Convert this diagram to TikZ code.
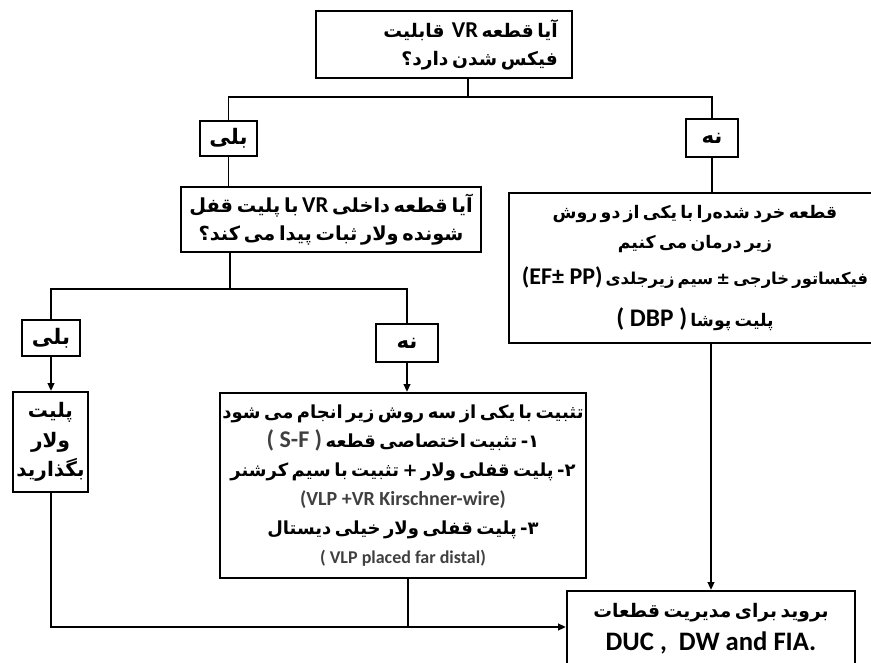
\documentclass[tikz,border=0pt]{standalone}
\usepackage{fontspec}
\usetikzlibrary{arrows.meta}
\newfontfamily\fafont[Script=Arabic, WordSpace=0.55]{DejaVu Sans}
\newfontfamily\latfont{Carlito}
\TeXXeTstate=1
\newcommand{\rl}[1]{\beginR #1\endR}
\newcommand{\lt}[2][17]{\beginL{\latfont\bfseries\fontsize{#1}{21}\selectfont #2}\endL}
\newcommand{\fsize}[1]{\fontsize{#1}{21}\selectfont}
\definecolor{latgray}{RGB}{64,64,64}

\tikzset{every picture/.style={line width=0.75pt}}
\tikzset{
  boxnode/.style={draw, line width=1.5pt, inner sep=2pt, align=center,
    font=\fafont\bfseries\fontsize{14}{21}\selectfont},
  link/.style={line width=1.1pt},
  arrowlink/.style={line width=1.5pt, -{Triangle[length=6pt,width=5pt]}},
}

\begin{document}
\begin{tikzpicture}[x=0.75pt,y=0.75pt,yscale=-1,xscale=1]
\useasboundingbox (0,0) rectangle (871,663);

%Shape: Rectangle
\node [boxnode, align=right, minimum width=192pt, minimum height=50.25pt] (q1) at (444,44.5)
  {\hspace*{40pt}\rl{آیا قطعه \lt{VR}~ قابلیت}\\ \rl{فیکس شدن دارد؟}};
%Shape: Rectangle
\node [boxnode, font=\fafont\bfseries\fsize{16}, minimum width=42.75pt, minimum height=26.25pt] (yes1) at (228.5,138.5) {\rl{بلی}};
%Shape: Rectangle
\node [boxnode, font=\fafont\bfseries\fsize{16}, minimum width=39pt, minimum height=28.5pt] (no1) at (712,138) {\rl{نه}};
%Shape: Rectangle
\node [boxnode, font=\fafont\bfseries\fsize{14.5}, minimum width=225pt, minimum height=48.75pt] (q2) at (331,219.5)
  {\rl{آیا قطعه داخلی \lt{VR} با پلیت قفل}\\ \rl{شونده ولار ثبات پیدا می کند؟}};
%Shape: Rectangle
\node [boxnode, font=\fafont\bfseries\fsize{13}, anchor=west, minimum width=279pt, minimum height=112.5pt] (f5) at (508,268)
  {\rl{قطعه خرد شده‌را با یکی از دو روش}\\[1.5pt] \rl{زیر درمان می کنیم}\\[6pt]
   {\fsize{12.3}\rl{فیکساتور خارجی ± سیم زیرجلدی \lt[18]{(EF± PP)}}}\\[10pt] \rl{پلیت پوشا \lt[19]{( DBP )}}};
%Shape: Rectangle
\node [boxnode, font=\fafont\bfseries\fsize{16}, minimum width=43.5pt, minimum height=27pt] (yes2) at (51,338) {\rl{بلی}};
%Shape: Rectangle
\node [boxnode, font=\fafont\bfseries\fsize{16}, minimum width=46.5pt, minimum height=28.5pt] (no2) at (407,343) {\rl{نه}};
%Shape: Rectangle
\node [boxnode, font=\fafont\bfseries\fontsize{15}{22}\selectfont, minimum width=56.25pt, minimum height=75pt] (f3) at (50.5,442)
  {\rl{پلیت}\\ \rl{ولار}\\ \rl{بگذارید}};
%Shape: Rectangle
\node [boxnode, font=\fafont\bfseries\fontsize{13.5}{21.75}\selectfont, minimum width=268.5pt, minimum height=138.75pt] (f4) at (403,485.5)
  {\rl{تثبیت با یکی از سه روش زیر انجام می شود}\\
   \rl{۱- تثبیت اختصاصی قطعه \lt[18]{\color{latgray}( S-F )}}\\
   \rl{۲- پلیت قفلی ولار + تثبیت با سیم کرشنر}\\
   \rl{\lt[15]{\color{latgray}(VLP +VR Kirschner-wire)}}\\
   \rl{۳- پلیت قفلی ولار خیلی دیستال}\\
   \rl{\lt[13.5]{\color{latgray}( VLP placed far distal)}}};
%Shape: Rectangle
\node [boxnode, anchor=north, minimum width=216pt, minimum height=57pt] (f6) at (711,590)
  {\rl{بروید برای مدیریت قطعات}\\[4pt] {\latfont\bfseries\fontsize{20}{24}\selectfont DUC ,~~DW and FIA.}};

%Straight Lines
\coordinate (s1) at (468,97);
\draw [link] (q1.south -| s1) -- (s1);
\draw [link] (yes1.north) |- (s1) -| (no1.north);
\draw [link] (yes1.south) -- (yes1.south |- q2.north);
\draw [link] (no1.south) -- (no1.south |- f5.north);
%Straight Lines
\coordinate (s2) at (230,289);
\draw [link] (q2.south -| s2) -- (s2);
\draw [link] (yes2.north) |- (s2) -| (no2.north);
\draw [arrowlink] (yes2.south) -- (yes2.south |- f3.north);
\draw [arrowlink] (no2.south) -- (no2.south |- f4.north);
%Straight Lines
\draw [arrowlink] (f6.north |- f5.south) -- (f6.north);
\coordinate (j) at (408,627);
\draw [link] (f4.south -| j) -- (j);
\draw [arrowlink] (f3.south) |- (f6.west |- j);

\end{tikzpicture}
\end{document}
